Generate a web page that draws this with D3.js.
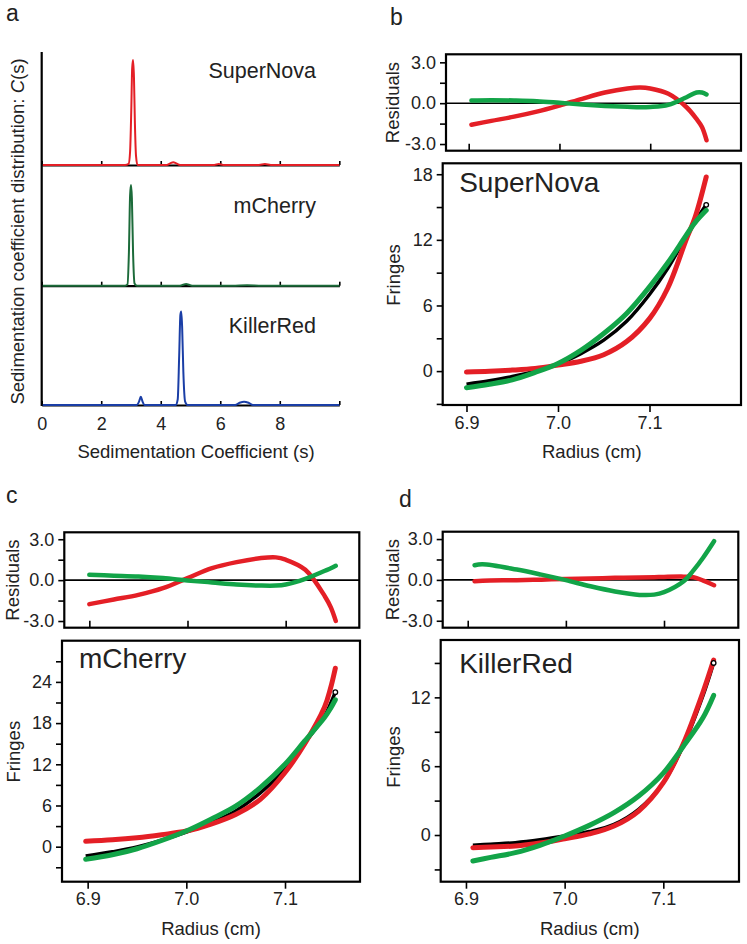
<!DOCTYPE html>
<html>
<head>
<meta charset="utf-8">
<script src="https://cdn.jsdelivr.net/npm/d3@7"></script>
<style>
  body { margin: 0; background: #fff; }
  svg { display: block; font-family: 'Liberation Sans', Arial, sans-serif; }
</style>
</head>
<body>
<svg id="chart" width="747" height="944"></svg>
<script>
// ---- panel a: c(s) distributions ----
const sedTicks = [0, 2, 4, 6, 8, 10];
const sedTickLabels = ['0', '2', '4', '6', '8', ''];

const superNovaS = [0, 2.8, 2.92, 2.97, 3.01, 3.04, 3.07, 3.10, 3.13, 3.17, 3.22, 4.2, 4.32, 4.42, 4.52, 4.65, 5.8, 5.95, 6.1, 7.3, 7.5, 7.7, 10];
const superNovaC = [0, 0, 0.01, 0.12, 0.5, 0.88, 0.955, 0.8, 0.4, 0.08, 0, 0, 0.015, 0.025, 0.015, 0, 0, 0.008, 0, 0, 0.008, 0, 0];

const mCherryS = [0, 2.8, 2.88, 2.93, 2.97, 3.0, 3.03, 3.07, 3.12, 3.2, 4.65, 4.75, 4.85, 4.95, 5.05, 6.4, 6.9, 7.4, 10];
const mCherryC = [0, 0, 0.01, 0.3, 0.82, 0.915, 0.8, 0.3, 0.02, 0, 0, 0.008, 0.015, 0.008, 0, 0, 0.004, 0, 0];

const killerRedS = [0, 3.2, 3.27, 3.33, 3.39, 3.45, 4.5, 4.57, 4.62, 4.66, 4.69, 4.72, 4.76, 4.82, 4.9, 6.5, 6.65, 6.8, 6.95, 7.1, 10];
const killerRedC = [0, 0, 0.03, 0.075, 0.03, 0, 0, 0.05, 0.45, 0.82, 0.85, 0.7, 0.3, 0.03, 0, 0, 0.02, 0.03, 0.02, 0, 0];

// ---- panels b-d: shared ticks ----
const radiusTicks = [6.9, 7.0, 7.1];
const radiusTickLabels = ['6.9', '7.0', '7.1'];
const residTicks = [-3, -1.5, 0, 1.5, 3];
const residTickLabels = ['-3.0', '', '0.0', '', '3.0'];

// b: SuperNova
const snX = [6.900, 6.925, 6.950, 6.975, 7.000, 7.025, 7.050, 7.075, 7.100, 7.120, 7.140, 7.150, 7.162];
const snData = [-1.19, -0.88, -0.5, 0.0, 0.64, 1.6, 2.83, 4.55, 7.0, 9.4, 12.3, 13.7, 15.2];
const snRed = [-0.09, -0.02, 0.09, 0.25, 0.55, 0.9, 1.5, 2.7, 4.8, 7.6, 12.0, 14.1, 17.75];
const snGreen = [-1.52, -1.2, -0.8, -0.12, 0.7, 1.9, 3.44, 5.27, 7.7, 9.9, 12.4, 13.6, 14.7];
const snResX = [6.903, 6.925, 6.950, 6.975, 7.000, 7.025, 7.050, 7.075, 7.089, 7.100, 7.120, 7.140, 7.151, 7.157, 7.162];
const snResRed = [-1.58, -1.3, -0.99, -0.62, -0.17, 0.32, 0.78, 1.08, 1.15, 1.08, 0.69, -0.3, -1.16, -1.75, -2.72];
const snResGreen = [0.2, 0.22, 0.2, 0.15, 0.03, -0.1, -0.2, -0.27, -0.3, -0.28, -0.12, 0.44, 0.78, 0.78, 0.64];
const snFringeTicks = [-3, 0, 3, 6, 9, 12, 15, 18];
const snFringeLabels = ['', '0', '', '6', '', '12', '', '18'];

// c: mCherry
const mcX = [6.898, 6.925, 6.950, 6.975, 7.000, 7.025, 7.050, 7.075, 7.100, 7.120, 7.140, 7.146, 7.151];
const mcData = [-1.36, -0.75, -0.05, 0.95, 2.13, 3.5, 5.2, 7.85, 11.25, 15.1, 19.0, 20.8, 22.5];
const mcRed = [0.78, 1.0, 1.31, 1.75, 2.28, 3.3, 4.7, 6.9, 10.8, 15.0, 20.3, 23.0, 26.0];
const mcGreen = [-1.84, -1.18, -0.3, 0.9, 2.28, 4.0, 5.9, 8.6, 12.0, 15.4, 18.8, 20.1, 21.4];
const mcResX = [6.900, 6.925, 6.950, 6.975, 7.000, 7.025, 7.050, 7.075, 7.090, 7.100, 7.120, 7.140, 7.146, 7.151];
const mcResRed = [-1.76, -1.42, -1.08, -0.59, 0.15, 0.88, 1.32, 1.62, 1.67, 1.5, 0.76, -1.2, -2.0, -2.99];
const mcResGreen = [0.39, 0.33, 0.27, 0.15, -0.02, -0.17, -0.32, -0.4, -0.4, -0.32, 0.1, 0.69, 0.87, 1.05];
const mcFringeTicks = [-3, 0, 3, 6, 9, 12, 15, 18, 21, 24, 27];
const mcFringeLabels = ['', '0', '', '6', '', '12', '', '18', '', '24', ''];

// d: KillerRed
const krX = [6.907, 6.925, 6.950, 6.975, 7.000, 7.025, 7.050, 7.075, 7.100, 7.120, 7.140, 7.151];
const krData = [-0.9, -0.8, -0.67, -0.42, -0.09, 0.3, 0.93, 2.24, 4.56, 7.76, 12.1, 15.0];
const krRed = [-1.1, -1.05, -0.96, -0.7, -0.32, 0.1, 0.78, 2.09, 4.56, 7.9, 12.4, 15.25];
const krGreen = [-2.27, -1.95, -1.54, -0.9, -0.09, 0.84, 1.95, 3.4, 5.4, 7.7, 10.2, 12.17];
const krResX = [6.907, 6.915, 6.950, 6.975, 7.000, 7.025, 7.050, 7.075, 7.090, 7.100, 7.120, 7.130, 7.140, 7.151];
const krResRed = [-0.1, -0.06, -0.02, 0.02, 0.07, 0.1, 0.15, 0.18, 0.2, 0.22, 0.24, 0.2, -0.05, -0.39];
const krResGreen = [1.08, 1.15, 0.76, 0.39, -0.02, -0.47, -0.85, -1.1, -1.08, -0.9, -0.1, 0.7, 1.65, 2.84];
const krFringeTicks = [-3, 0, 3, 6, 9, 12, 15];
const krFringeLabels = ['', '0', '', '6', '', '12', ''];

const RED = '#e41f26';
const GREEN = '#12a448';
const curve = d3.curveCatmullRom.alpha(0.5);

const svg = d3.select('#chart');

// ---------- panel a ----------
function drawPanelA() {
  const x = d3.scaleLinear().domain([0, 10]).range([41.7, 339.3]);
  const unit = 110; // px per c(s) unit
  const rows = [
    { base: 165, s: superNovaS, c: superNovaC, color: '#e41f26', name: 'SuperNova', ty: 78 },
    { base: 285.7, s: mCherryS, c: mCherryC, color: '#1c6b3a', name: 'mCherry', ty: 213 },
    { base: 405, s: killerRedS, c: killerRedC, color: '#1a3ea6', name: 'KillerRed', ty: 333 },
  ];

  const g = svg.append('g');

  rows.forEach((r, k) => {
    const y = d3.scaleLinear().domain([0, 1]).range([r.base, r.base - unit]);
    const axis = g.append('g')
      .attr('transform', `translate(0,${r.base})`)
      .call(d3.axisBottom(x).tickValues(sedTicks).tickSizeInner(-4).tickSizeOuter(0)
        .tickPadding(12).tickFormat((d, i) => (k === 2 ? sedTickLabels[i] : '')));
    axis.select('.domain').attr('stroke-width', 2.2);
    axis.selectAll('.tick line').attr('stroke-width', 1.6);
    axis.selectAll('.tick text').attr('font-size', 18).attr('fill', '#222');

    g.append('path')
      .datum(d3.range(r.s.length))
      .attr('fill', 'none')
      .attr('stroke', r.color)
      .attr('stroke-width', 2)
      .attr('d', d3.line().x(i => x(r.s[i])).y(i => y(r.c[i])).curve(d3.curveMonotoneX));

    g.append('text')
      .attr('x', 316).attr('y', r.ty)
      .attr('text-anchor', 'end')
      .attr('font-size', 21.5).attr('fill', '#222')
      .text(r.name);
  });

  g.append('line')
    .attr('x1', 41.7).attr('x2', 41.7).attr('y1', 52).attr('y2', 406)
    .attr('stroke', '#000').attr('stroke-width', 2.2);

  const yl = g.append('text')
    .attr('transform', 'translate(24,231.5) rotate(-90)')
    .attr('text-anchor', 'middle')
    .attr('font-size', 18.5).attr('fill', '#222');
  yl.append('tspan').text('Sedimentation coefficient distribution: ');
  yl.append('tspan').attr('font-style', 'italic').text('C');
  yl.append('tspan').text('(s)');

  g.append('text')
    .attr('x', 196).attr('y', 458)
    .attr('text-anchor', 'middle')
    .attr('font-size', 18.5).attr('fill', '#222')
    .text('Sedimentation Coefficient (s)');
}

// ---------- panels b-d ----------
function styleAxis(sel, fontSize) {
  sel.select('.domain').remove();
  sel.selectAll('.tick line').attr('stroke', '#000').attr('stroke-width', 1.6);
  sel.selectAll('.tick text').attr('font-size', fontSize).attr('fill', '#222');
}

function drawFitPanel(p) {
  const g = svg.append('g');

  // residual box
  const rb = p.resBox;
  const rx = d3.scaleLinear().domain(p.resXDomain).range([rb.x0, rb.x1]);
  const ry = d3.scaleLinear().domain(p.resYDomain).range([rb.y1, rb.y0]);

  g.append('g')
    .attr('transform', `translate(${rb.x0},0)`)
    .call(d3.axisLeft(ry).tickValues(residTicks).tickSize(6).tickPadding(4)
      .tickFormat((d, i) => residTickLabels[i]))
    .call(styleAxis, 18);
  g.append('g')
    .attr('transform', `translate(0,${rb.y1})`)
    .call(d3.axisBottom(rx).tickValues(radiusTicks).tickSize(-7).tickFormat(''))
    .call(styleAxis, 18);

  g.append('line')
    .attr('x1', rb.x0).attr('x2', rb.x1).attr('y1', ry(0)).attr('y2', ry(0))
    .attr('stroke', '#000').attr('stroke-width', 1.6);

  const resLine = vals => d3.line()
    .x((d, i) => rx(p.resX[i])).y(d => ry(d))
    .curve(curve)(vals);

  g.append('path').attr('d', resLine(p.resRed))
    .attr('fill', 'none').attr('stroke', RED).attr('stroke-width', 4.5)
    .attr('stroke-linecap', 'round');
  g.append('path').attr('d', resLine(p.resGreen))
    .attr('fill', 'none').attr('stroke', GREEN).attr('stroke-width', 4.5)
    .attr('stroke-linecap', 'round');

  g.append('rect')
    .attr('x', rb.x0).attr('y', rb.y0)
    .attr('width', rb.x1 - rb.x0).attr('height', rb.y1 - rb.y0)
    .attr('fill', 'none').attr('stroke', '#000').attr('stroke-width', 2.2);

  g.append('text')
    .attr('transform', `translate(${p.resTitleX},${(rb.y0 + rb.y1) / 2}) rotate(-90)`)
    .attr('text-anchor', 'middle')
    .attr('font-size', 18.5).attr('fill', '#222')
    .text('Residuals');

  // main box
  const mb = p.mainBox;
  const x = d3.scaleLinear().domain(p.xDomain).range([mb.x0, mb.x1]);
  const y = d3.scaleLinear().domain(p.yDomain).range([mb.y1, mb.y0]);

  g.append('g')
    .attr('transform', `translate(${mb.x0},0)`)
    .call(d3.axisLeft(y).tickValues(p.fringeTicks).tickSize(6).tickPadding(4)
      .tickFormat((d, i) => p.fringeLabels[i]))
    .call(styleAxis, 18);
  g.append('g')
    .attr('transform', `translate(0,${mb.y1})`)
    .call(d3.axisBottom(x).tickValues(radiusTicks).tickSize(7).tickPadding(4)
      .tickFormat((d, i) => radiusTickLabels[i]))
    .call(styleAxis, 18);

  const line = vals => d3.line()
    .x((d, i) => x(p.x[i])).y(d => y(d))
    .curve(curve)(vals);

  g.append('path').attr('d', line(p.data))
    .attr('fill', 'none').attr('stroke', '#000').attr('stroke-width', 3.5);
  g.append('path').attr('d', line(p.red))
    .attr('fill', 'none').attr('stroke', RED).attr('stroke-width', 5)
    .attr('stroke-linecap', 'round');
  g.append('path').attr('d', line(p.green))
    .attr('fill', 'none').attr('stroke', GREEN).attr('stroke-width', 5)
    .attr('stroke-linecap', 'round');

  const last = p.data.length - 1;
  g.append('circle')
    .attr('cx', x(p.x[last])).attr('cy', y(p.data[last]))
    .attr('r', 2.3)
    .attr('fill', '#fff').attr('stroke', '#000').attr('stroke-width', 1.3);

  g.append('rect')
    .attr('x', mb.x0).attr('y', mb.y0)
    .attr('width', mb.x1 - mb.x0).attr('height', mb.y1 - mb.y0)
    .attr('fill', 'none').attr('stroke', '#000').attr('stroke-width', 2.2);

  g.append('text')
    .attr('x', mb.x0 + p.nameDx).attr('y', mb.y0 + p.nameDy)
    .attr('font-size', 28).attr('fill', '#222')
    .text(p.name);

  g.append('text')
    .attr('transform', `translate(${p.fringeTitleX},${p.fringeTitleY}) rotate(-90)`)
    .attr('text-anchor', 'middle')
    .attr('font-size', 18.5).attr('fill', '#222')
    .text('Fringes');

  g.append('text')
    .attr('x', (mb.x0 + mb.x1) / 2).attr('y', mb.y1 + 53)
    .attr('text-anchor', 'middle')
    .attr('font-size', 18.5).attr('fill', '#222')
    .text('Radius (cm)');

  g.append('text')
    .attr('x', p.letterX).attr('y', p.letterY)
    .attr('font-size', 23).attr('fill', '#222')
    .text(p.letter);
}

drawPanelA();
svg.append('text').attr('x', 6).attr('y', 21).attr('font-size', 23).attr('fill', '#222').text('a');

drawFitPanel({
  letter: 'b', letterX: 390, letterY: 25,
  name: 'SuperNova', nameDx: 16.5, nameDy: 28.5,
  resBox: { x0: 446, x1: 741, y0: 54.3, y1: 150.7 },
  resXDomain: [6.875, 7.2], resYDomain: [-3.49, 3.59],
  mainBox: { x0: 442.7, x1: 741, y0: 163.3, y1: 405 },
  xDomain: [6.874, 7.2], yDomain: [-3.1, 19],
  x: snX, data: snData, red: snRed, green: snGreen,
  resX: snResX, resRed: snResRed, resGreen: snResGreen,
  fringeTicks: snFringeTicks, fringeLabels: snFringeLabels,
  resTitleX: 399, fringeTitleX: 400, fringeTitleY: 275,
});

drawFitPanel({
  letter: 'c', letterX: 6, letterY: 503,
  name: 'mCherry', nameDx: 17, nameDy: 27.5,
  resBox: { x0: 64.3, x1: 359.3, y0: 532.3, y1: 627.7 },
  resXDomain: [6.8745, 7.175], resYDomain: [-3.49, 3.51],
  mainBox: { x0: 62, x1: 360, y0: 640.7, y1: 881.7 },
  xDomain: [6.874, 7.176], yDomain: [-5.1, 30],
  x: mcX, data: mcData, red: mcRed, green: mcGreen,
  resX: mcResX, resRed: mcResRed, resGreen: mcResGreen,
  fringeTicks: mcFringeTicks, fringeLabels: mcFringeLabels,
  resTitleX: 19, fringeTitleX: 19.5, fringeTitleY: 751.7,
});

drawFitPanel({
  letter: 'd', letterX: 399, letterY: 507,
  name: 'KillerRed', nameDx: 18.5, nameDy: 33,
  resBox: { x0: 442.7, x1: 738.3, y0: 531.7, y1: 627.7 },
  resXDomain: [6.8745, 7.1757], resYDomain: [-3.51, 3.54],
  mainBox: { x0: 440.7, x1: 739, y0: 640, y1: 881.7 },
  xDomain: [6.8744, 7.1767], yDomain: [-4.07, 17],
  x: krX, data: krData, red: krRed, green: krGreen,
  resX: krResX, resRed: krResRed, resGreen: krResGreen,
  fringeTicks: krFringeTicks, fringeLabels: krFringeLabels,
  resTitleX: 399, fringeTitleX: 400, fringeTitleY: 757,
});
</script>
</body>
</html>
